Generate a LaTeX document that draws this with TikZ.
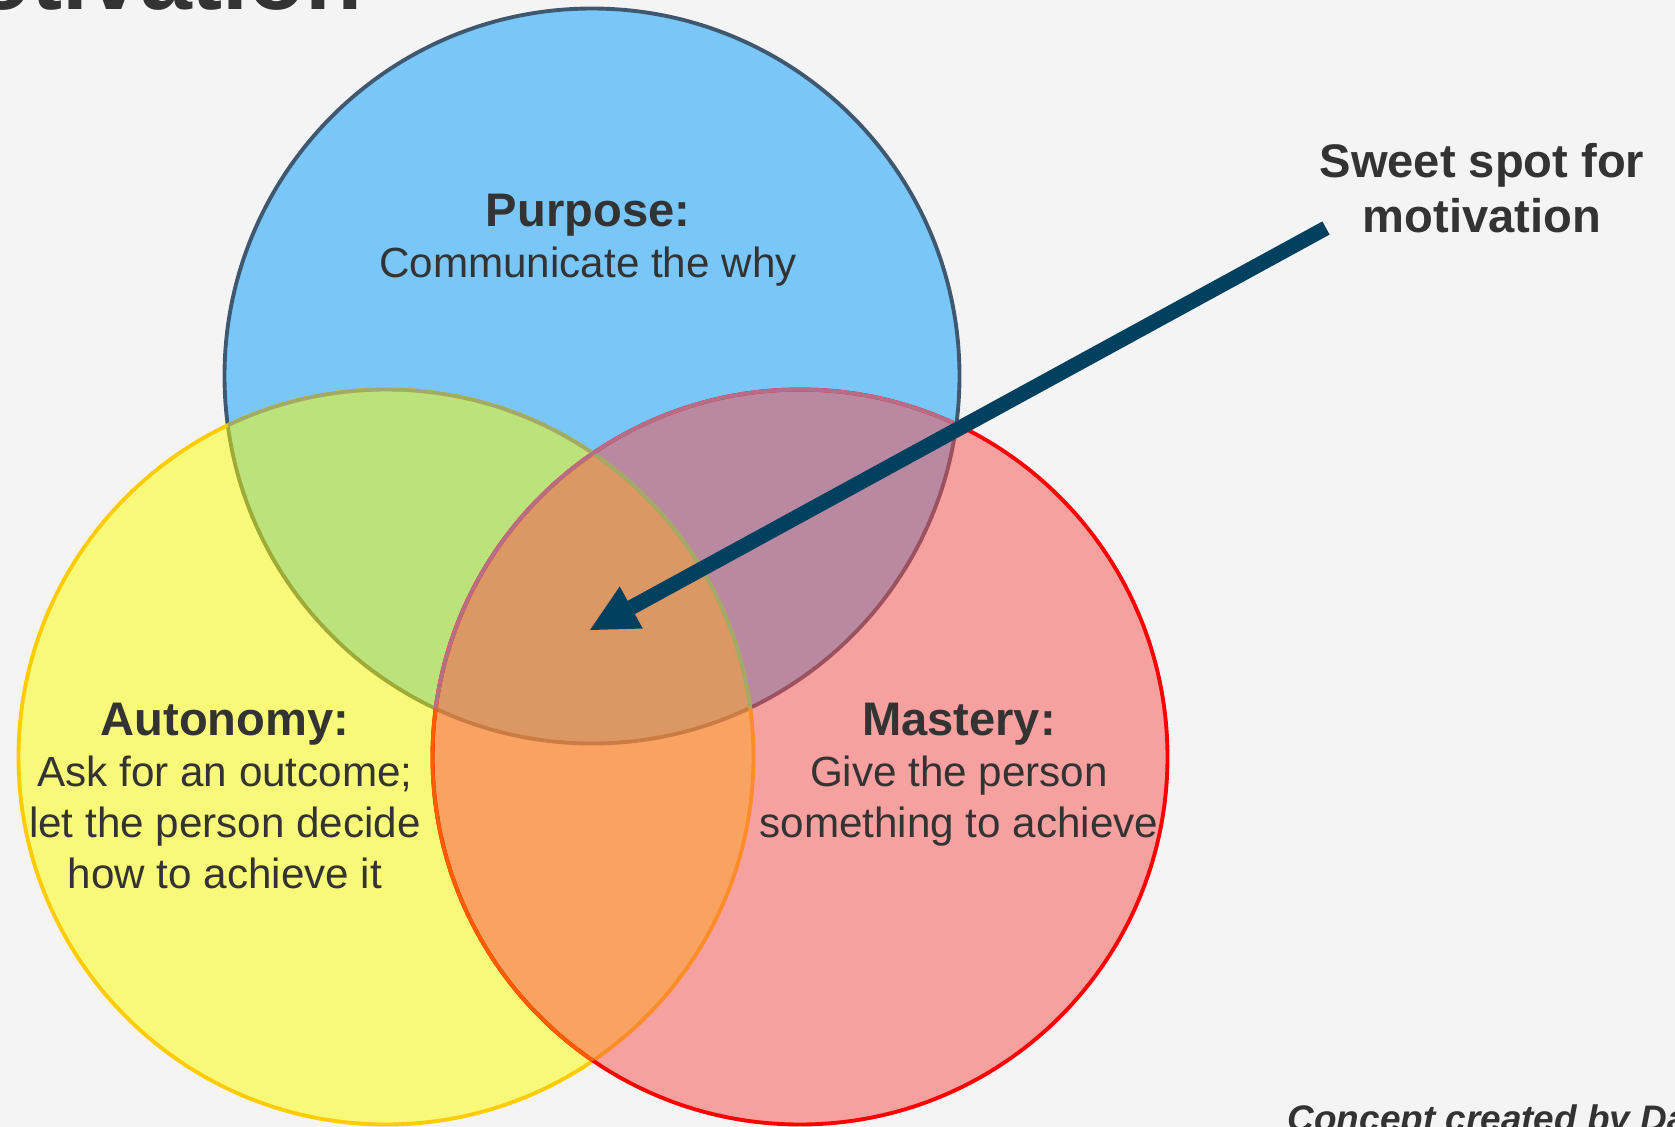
\documentclass[tikz,border=0pt]{standalone}
\usepackage{fontspec}
\setmainfont{Liberation Sans}
\usetikzlibrary{arrows.meta}
\definecolor{bg}{HTML}{F4F4F4}
\definecolor{txt}{HTML}{333333}
\definecolor{bfill}{HTML}{79C6F8}
\definecolor{bline}{HTML}{3F5870}
\definecolor{yfill}{HTML}{FFFF00}
\definecolor{yline}{HTML}{FFCC00}
\definecolor{rfill}{HTML}{FA4E4E}
\definecolor{rline}{HTML}{FF0000}
\definecolor{arr}{HTML}{01415F}
\newcommand{\headtxt}[1]{{\bfseries\fontsize{13.4}{14.5}\selectfont #1}}

\begin{document}
\begin{tikzpicture}[x=0.01cm,y=-0.01cm,
   >={Triangle[length=4.7mm,width=4.8mm,line width=0pt]},
   lbl/.style={text=txt,align=center,anchor=base,inner sep=0pt,
     font=\fontsize{12}{14.5}\selectfont}]
   \fill[bg] (0,0) rectangle (1675,1127);
   \useasboundingbox (0,0) rectangle (1675,1127);
   \clip (0,0) rectangle (1675,1127);

   \coordinate (b) at (592,376);
   \coordinate (y) at (386,757);
   \coordinate (r) at (800,757);

   \draw[bline,line width=1.1pt,fill=bfill] (b) circle (367.5);
   \draw[yline,line width=1.1pt,fill=yfill,fill opacity=0.5] (y) circle (367.5);
   \draw[rline,line width=1.1pt,fill=rfill,fill opacity=0.5] (r) circle (367.5);
   % edges that lie under another circle
   \begin{scope}
     \clip (y) circle (367.5);
     \draw[rline!55!yline,line width=1.1pt] (r) circle (367.5);
   \end{scope}
   \begin{scope}
     \clip (b) circle (367.5);
     \draw[yline!50!bfill!85!black,line width=1.1pt] (y) circle (367.5);
     \draw[rline!45!bfill,line width=1.1pt] (r) circle (367.5);
   \end{scope}

   \node[text=txt,anchor=base west,inner sep=0pt,
     font=\bfseries\fontsize{26.5}{30}\selectfont] (ttl) at (-104,9) {Motivation};

   % base = last line
   \node[lbl] (pur) at (588,277) {\headtxt{Purpose:}\\Communicate the why};
   \node[lbl] (aut) at (225,888) {\headtxt{Autonomy:}\\Ask for an outcome;\\let the person decide\\how to achieve it};
   \node[lbl] (mas) at (959,837) {\headtxt{Mastery:}\\Give the person\\something to achieve};
   \node[lbl,font=\bfseries\fontsize{13.4}{15.6}\selectfont] (sw) at (1482,232) {Sweet spot for\\motivation};

   \node[text=txt,anchor=base west,inner sep=0pt,
     font=\bfseries\itshape\fontsize{10.5}{12}\selectfont] (cc) at (1287,1131) {Concept created by Da};

   \coordinate (tl) at (1326,228);
   \coordinate (tp) at (590,630);
   \draw[->,arr,line width=4.27pt] (tl) -- (tp);
\end{tikzpicture}
\end{document}
